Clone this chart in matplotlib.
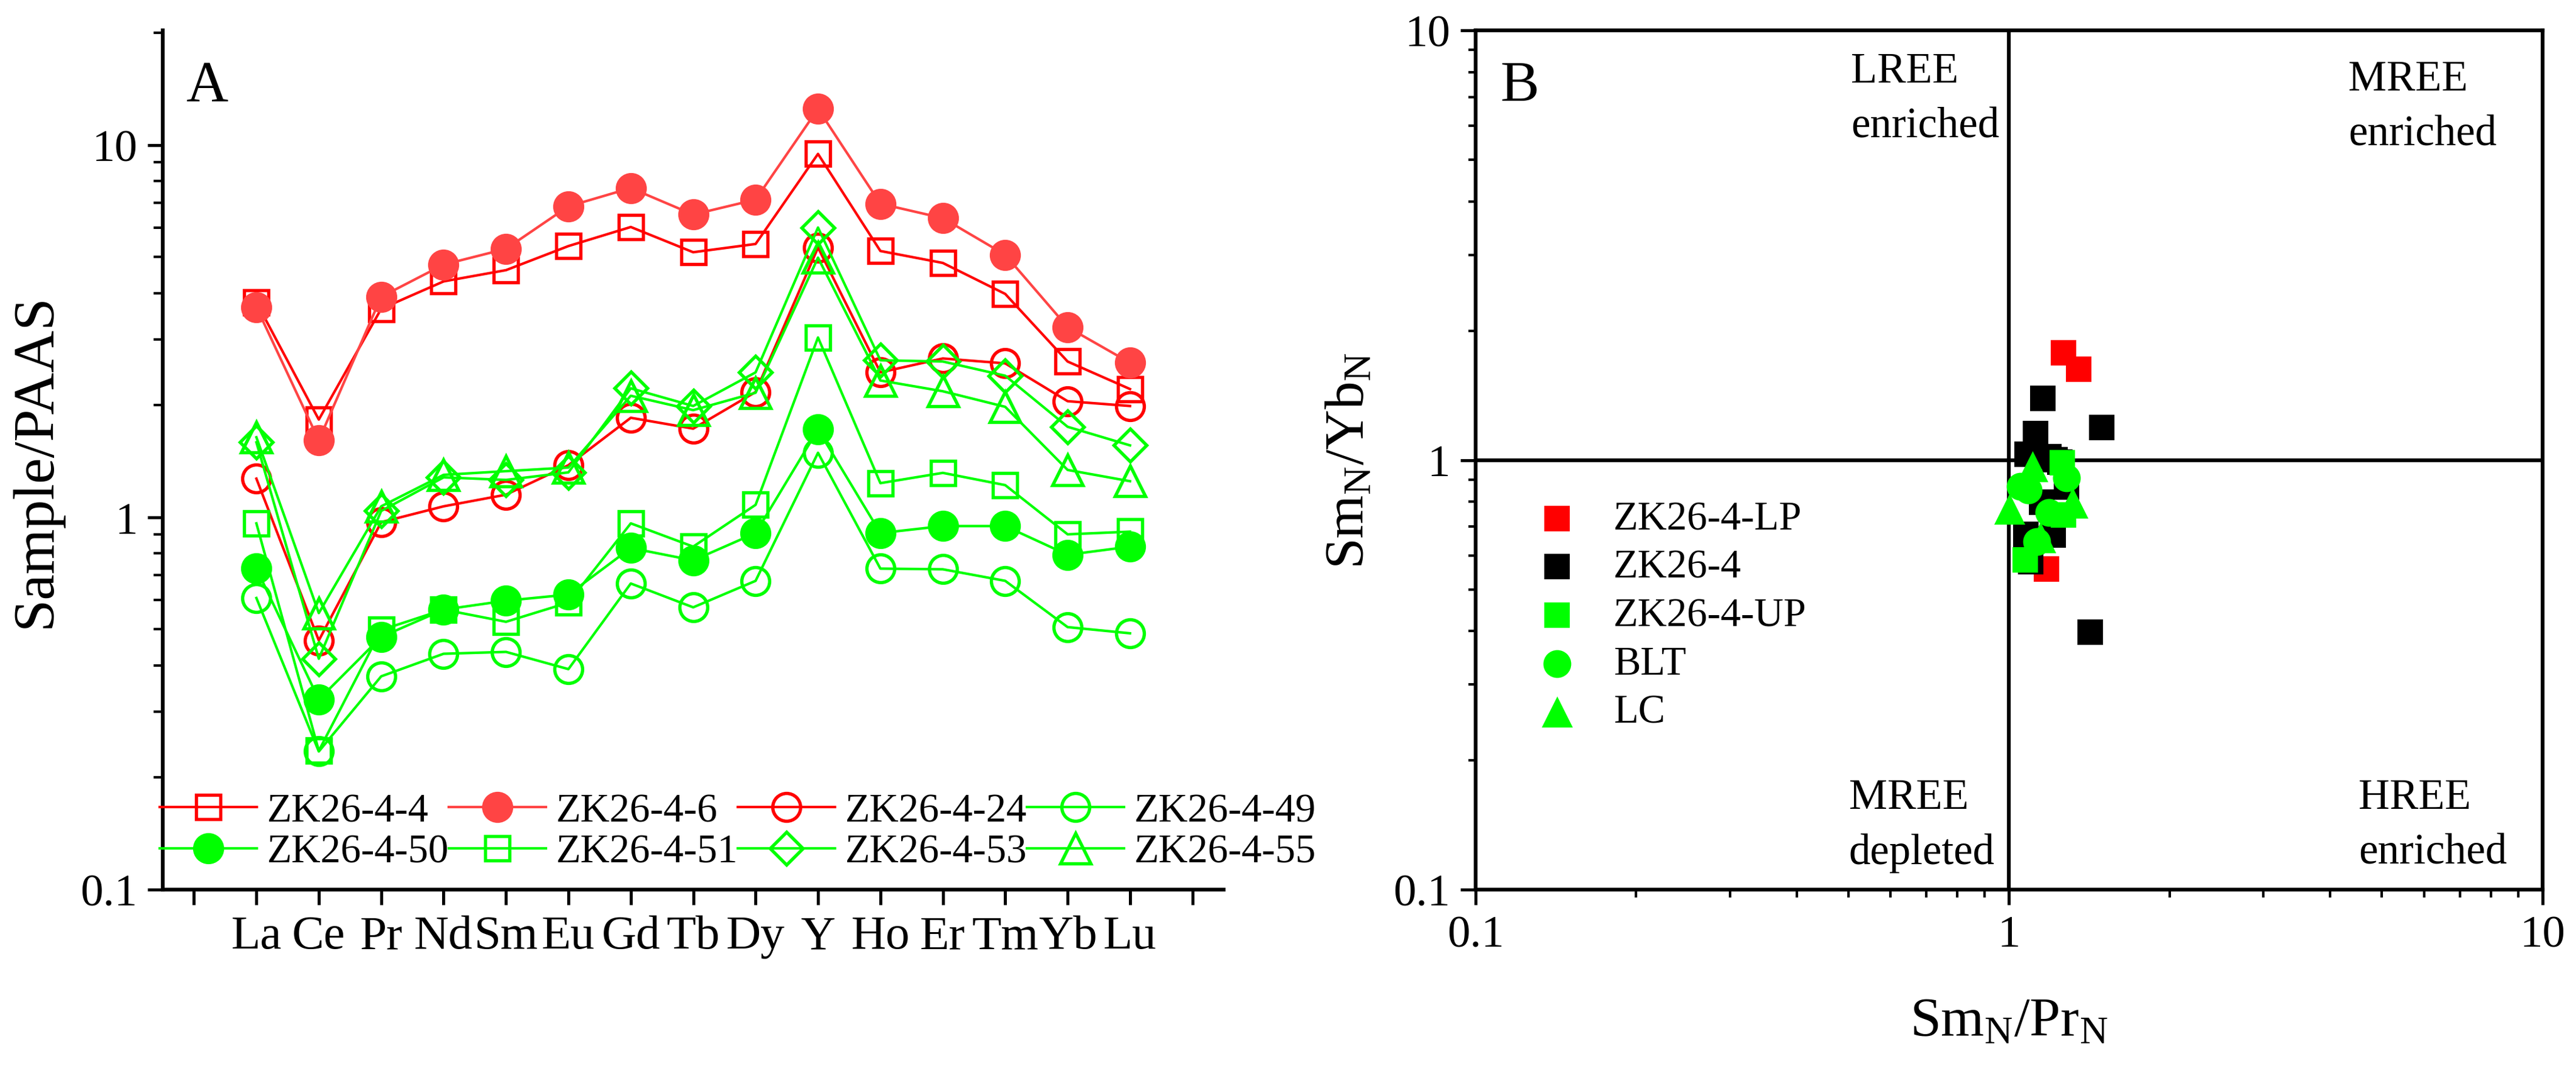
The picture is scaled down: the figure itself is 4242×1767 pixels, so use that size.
# STEP 1: Import Required Libraries

import matplotlib
matplotlib.use('Agg')
import matplotlib.pyplot as plt
from matplotlib.ticker import LogLocator, NullFormatter

plt.rcParams['font.family'] = ['Liberation Serif', 'DejaVu Serif']
plt.rcParams['mathtext.fontset'] = 'custom'
plt.rcParams['mathtext.rm'] = 'Liberation Serif'
plt.rcParams['mathtext.it'] = 'Liberation Serif:italic'

# STEP 2: Data for panel A (Sample / PAAS)

elements = ['La', 'Ce', 'Pr', 'Nd', 'Sm', 'Eu', 'Gd', 'Tb', 'Dy', 'Y',
            'Ho', 'Er', 'Tm', 'Yb', 'Lu']

zk_4 = [3.78, 1.83, 3.63, 4.30, 4.61, 5.35, 6.02, 5.15, 5.42, 9.46,
        5.19, 4.82, 3.98, 2.62, 2.21]
zk_6 = [3.67, 1.61, 3.91, 4.77, 5.26, 6.84, 7.66, 6.50, 7.13, 12.5,
        6.95, 6.36, 5.07, 3.24, 2.60]
zk_24 = [1.27, 0.467, 0.97, 1.07, 1.15, 1.38, 1.85, 1.73, 2.17, 5.30,
         2.45, 2.67, 2.59, 2.05, 1.99]
zk_49 = [0.607, 0.235, 0.374, 0.43, 0.435, 0.391, 0.664, 0.573, 0.675, 1.49,
         0.728, 0.725, 0.675, 0.507, 0.488]
zk_50 = [0.728, 0.324, 0.477, 0.565, 0.597, 0.62, 0.827, 0.766, 0.907, 1.72,
         0.907, 0.947, 0.947, 0.793, 0.834]
zk_51 = [0.963, 0.236, 0.498, 0.565, 0.524, 0.59, 0.963, 0.834, 1.08, 3.04,
         1.235, 1.316, 1.22, 0.90, 0.915]
zk_53 = [1.59, 0.417, 1.04, 1.28, 1.26, 1.32, 2.22, 1.99, 2.45, 6.0,
         2.64, 2.62, 2.40, 1.75, 1.56]
zk_55 = [1.64, 0.553, 1.07, 1.30, 1.33, 1.36, 2.12, 1.94, 2.16, 4.98,
         2.33, 2.18, 1.98, 1.34, 1.25]

# STEP 3: Data for panel B (SmN/PrN vs SmN/YbN)

lp_x = [1.266, 1.352, 1.176]
lp_y = [1.777, 1.625, 0.558]

zk26_x = [1.156, 1.492, 1.122, 1.081, 1.189, 1.220, 1.245, 1.283, 1.151,
          1.075, 1.211, 1.099, 1.419]
zk26_y = [1.39, 1.19, 1.151, 1.033, 1.019, 1.002, 0.989, 0.865, 0.799,
          0.672, 0.670, 0.580, 0.397]

up_x = [1.258, 1.265, 1.071]
up_y = [0.986, 0.746, 0.585]

blt_x = [1.283, 1.050, 1.087, 1.189, 1.128]
blt_y = [0.908, 0.867, 0.850, 0.756, 0.645]

lc_x = [1.107, 1.003, 1.317, 1.146]
lc_y = [0.968, 0.770, 0.796, 0.661]

# STEP 4: Figure

fig = plt.figure(figsize=(14.14, 5.8933), dpi=300)
ax1 = fig.add_axes([0.0632, 0.1708, 0.4118, 0.8003])
ax2 = fig.add_axes([0.5728, 0.1708, 0.4142, 0.8003])

red = '#FF0000'
red2 = '#FF4444'
green = '#00FF00'

x = list(range(1, len(elements) + 1))

series = [
    ('ZK26-4-4', zk_4, red, 's', 'none', 9.5),
    ('ZK26-4-6', zk_6, red2, 'o', red2, 11),
    ('ZK26-4-24', zk_24, red, 'o', 'none', 11),
    ('ZK26-4-49', zk_49, green, 'o', 'none', 11),
    ('ZK26-4-50', zk_50, green, 'o', green, 11),
    ('ZK26-4-51', zk_51, green, 's', 'none', 9.5),
    ('ZK26-4-53', zk_53, green, 'D', 'none', 9),
    ('ZK26-4-55', zk_55, green, '^', 'none', 12),
]

handles = {}
for name, vals, col, mk, fc, ms in series:
    line, = ax1.plot(x, vals, color=col, lw=1.0, marker=mk, ms=ms,
                     mfc=fc, mec=col, mew=1.3, label=name)
    handles[name] = line

ax1.set_yscale('log')
ax1.set_ylim(0.1, 20.3)
ax1.set_xlim(-0.5, 16.5)
ax1.set_xticks(range(0, 17))
ax1.set_xticklabels([''] + elements + [''], fontsize=19)
ax1.set_yticks([0.1, 1, 10])
ax1.set_yticklabels(['0.1', '1', '10'], fontsize=18)
ax1.yaxis.set_minor_locator(LogLocator(base=10, subs=range(2, 10)))
ax1.yaxis.set_minor_formatter(NullFormatter())
ax1.tick_params(axis='x', direction='out', length=6, width=1.2, pad=4)
ax1.tick_params(axis='y', which='major', direction='out', length=6, width=1.2, pad=4)
ax1.tick_params(axis='y', which='minor', direction='out', length=3.5, width=1.0)
ax1.spines['top'].set_visible(False)
ax1.spines['right'].set_visible(False)
ax1.spines['left'].set_linewidth(1.5)
ax1.spines['bottom'].set_linewidth(1.5)
ax1.set_ylabel('Sample/PAAS', fontsize=23)
ax1.yaxis.set_label_coords(-0.095, 0.5)
ax1.text(0.022, 0.965, 'A', transform=ax1.transAxes, fontsize=23, va='top')

order = ['ZK26-4-4', 'ZK26-4-50', 'ZK26-4-6', 'ZK26-4-51',
         'ZK26-4-24', 'ZK26-4-53', 'ZK26-4-49', 'ZK26-4-55']
ax1.legend([handles[n] for n in order], order, ncol=4, loc='lower left',
           bbox_to_anchor=(-0.003, 0.022), frameon=False, fontsize=16,
           borderpad=0, borderaxespad=0, handlelength=2.4,
           handletextpad=0.25, columnspacing=0.0, labelspacing=0.1)

# STEP 5: Panel B scatter

ax2.scatter(lp_x, lp_y, marker='s', s=100, color=red, lw=0, label='ZK26-4-LP', zorder=3)
ax2.scatter(zk26_x, zk26_y, marker='s', s=100, color='black', lw=0, label='ZK26-4', zorder=3)
ax2.scatter(up_x, up_y, marker='s', s=100, color=green, lw=0, label='ZK26-4-UP', zorder=3)
ax2.scatter(blt_x, blt_y, marker='o', s=121, color=green, lw=0, label='BLT', zorder=3)
ax2.scatter(lc_x, lc_y, marker='^', s=150, color=green, lw=0, label='LC', zorder=3)

ax2.axvline(1, color='black', lw=1.5, zorder=2)
ax2.axhline(1, color='black', lw=1.5, zorder=2)

ax2.set_xscale('log')
ax2.set_yscale('log')
ax2.set_xlim(0.1, 10)
ax2.set_ylim(0.1, 10)
ax2.set_xticks([0.1, 1, 10])
ax2.set_xticklabels(['0.1', '1', '10'], fontsize=18)
ax2.set_yticks([0.1, 1, 10])
ax2.set_yticklabels(['0.1', '1', '10'], fontsize=18)
for axis in (ax2.xaxis, ax2.yaxis):
    axis.set_minor_locator(LogLocator(base=10, subs=range(2, 10)))
    axis.set_minor_formatter(NullFormatter())
ax2.tick_params(which='major', direction='out', length=6, width=1.2, pad=4)
ax2.tick_params(which='minor', direction='out', length=3, width=1.0)
for sp in ax2.spines.values():
    sp.set_linewidth(1.5)

ax2.set_xlabel('Sm$_{\\rm N}$/Pr$_{\\rm N}$', fontsize=22)
ax2.xaxis.set_label_coords(0.5, -0.125)
ax2.set_ylabel('Sm$_{\\rm N}$/Yb$_{\\rm N}$', fontsize=22)
ax2.yaxis.set_label_coords(-0.094, 0.5)
ax2.text(0.023, 0.965, 'B', transform=ax2.transAxes, fontsize=23, va='top')

quad_kw = dict(transform=ax2.transAxes, fontsize=17, va='top', ha='left',
               linespacing=1.5)
ax2.text(0.352, 0.975, 'LREE\nenriched', **quad_kw)
ax2.text(0.818, 0.966, 'MREE\nenriched', **quad_kw)
ax2.text(0.350, 0.13, 'MREE\ndepleted', **quad_kw)
ax2.text(0.8276, 0.13, 'HREE\nenriched', **quad_kw)

ax2.legend(loc='upper left', bbox_to_anchor=(0.0387, 0.453), frameon=False,
           fontsize=16, borderpad=0, borderaxespad=0, handlelength=2.0,
           handletextpad=0.39, labelspacing=0.28, scatterpoints=1)

plt.savefig('out.png', dpi=300)
